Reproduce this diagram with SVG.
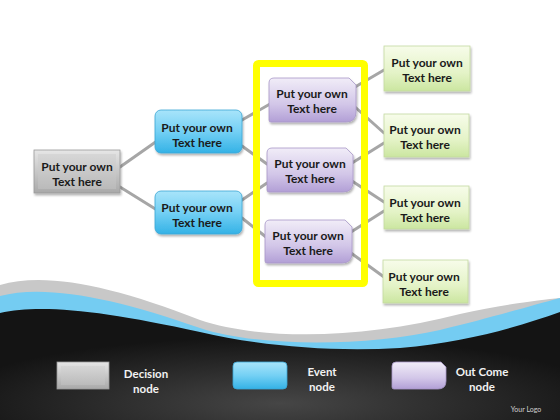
<svg xmlns="http://www.w3.org/2000/svg" width="560" height="420" viewBox="0 0 560 420">
<defs>
<linearGradient id="gGray" x1="0" y1="0" x2="0" y2="1"><stop offset="0" stop-color="#e6e6e6"/><stop offset="1" stop-color="#a9a9a9"/></linearGradient>
<linearGradient id="gGrayIn" x1="0" y1="0" x2="0" y2="1"><stop offset="0" stop-color="#d4d4d4"/><stop offset="1" stop-color="#bdbdbd"/></linearGradient>
<linearGradient id="gBlue" x1="0" y1="0" x2="0" y2="1"><stop offset="0" stop-color="#a8e4fa"/><stop offset="0.5" stop-color="#74d0f4"/><stop offset="1" stop-color="#34b2e6"/></linearGradient>
<linearGradient id="gPurple" x1="0" y1="0" x2="0" y2="1"><stop offset="0" stop-color="#f1edf8"/><stop offset="0.6" stop-color="#d2c6e8"/><stop offset="1" stop-color="#b29fd6"/></linearGradient>
<linearGradient id="gGreen" x1="0" y1="0" x2="0" y2="1"><stop offset="0" stop-color="#f7fcea"/><stop offset="0.6" stop-color="#e4f3c7"/><stop offset="1" stop-color="#cbe6a0"/></linearGradient>
<radialGradient id="gDark" cx="0.5" cy="0.85" r="0.6"><stop offset="0" stop-color="#464646"/><stop offset="1" stop-color="#141414"/></radialGradient>
<filter id="sh" x="-10%" y="-10%" width="130%" height="140%"><feDropShadow dx="1" dy="2" stdDeviation="1.2" flood-color="#000" flood-opacity="0.3"/></filter>
</defs>
<style>
.t{font-family:Lato,"Liberation Sans",sans-serif;font-weight:bold;font-size:12px;fill:#1a1a1a;text-anchor:middle}
.l{font-family:Lato,"Liberation Sans",sans-serif;font-weight:bold;font-size:11.5px;fill:#f2f2f2;text-anchor:middle}
.c{stroke:#a6a6a6;stroke-width:3;fill:none;stroke-linecap:round}
.gr{fill:url(#gGray);stroke:#9a9a9a;stroke-width:0.8}
.bl{fill:url(#gBlue);stroke:#3aa6d6;stroke-width:0.8}
.pu{fill:url(#gPurple);stroke:#a898c8;stroke-width:0.8}
.gn{fill:url(#gGreen);stroke:#c4d9a0;stroke-width:0.8}
</style>
<rect width="560" height="420" fill="#ffffff"/>
<g id="background">
<path d="M0,285 C45,272 110,285 200,320 C260,340 360,340 460,314 C500,305 540,300 560,298 L560,420 L0,420 Z" fill="#c8c8c8"/>
<path d="M0,296 C45,284 115,298 200,328 C260,348 370,346 440,330 C490,318 530,306 560,298 L560,420 L0,420 Z" fill="#74ccf2"/>
<path d="M0,313 C40,304 100,310 200,332 C260,346 330,352 400,348 C470,342 520,326 560,312 L560,420 L0,420 Z" fill="url(#gDark)"/>
</g>
<g id="connectors">
<line class="c" x1="120" y1="167" x2="157" y2="141"/>
<line class="c" x1="120" y1="187" x2="157" y2="210"/>
<line class="c" x1="242" y1="120" x2="270" y2="104"/>
<line class="c" x1="242" y1="146" x2="267" y2="164"/>
<line class="c" x1="242" y1="200" x2="267" y2="183"/>
<line class="c" x1="242" y1="218" x2="266" y2="237"/>
<line class="c" x1="355" y1="87" x2="384" y2="70"/>
<line class="c" x1="355" y1="107" x2="384" y2="133"/>
<line class="c" x1="352" y1="163" x2="384" y2="143"/>
<line class="c" x1="352" y1="181" x2="384" y2="202"/>
<line class="c" x1="351" y1="232" x2="384" y2="211"/>
<line class="c" x1="351" y1="253" x2="384" y2="277"/>
</g>
<g id="highlight">
<rect x="256.5" y="63.5" width="108" height="220" rx="2" fill="none" stroke="#ffff00" stroke-width="7"/>
</g>
<g id="decision">
<rect class="gr" x="34" y="150" width="86" height="43" filter="url(#sh)"/>
<rect x="38" y="154" width="78" height="35" fill="url(#gGrayIn)" opacity="0.8"/>
<text class="t" x="77" y="171">Put your own</text>
<text class="t" x="77" y="186">Text here</text>
</g>
<g id="event1">
<rect class="bl" x="155" y="110" width="87" height="43" rx="6" filter="url(#sh)"/>
<text class="t" x="197" y="132">Put your own</text>
<text class="t" x="197" y="147">Text here</text>
</g>
<g id="event2">
<rect class="bl" x="155" y="191" width="87" height="43" rx="6" filter="url(#sh)"/>
<text class="t" x="197" y="212">Put your own</text>
<text class="t" x="197" y="227">Text here</text>
</g>
<g id="outcome1">
<path class="pu" filter="url(#sh)" d="M274,78 L349,78 L356,85 L356,112 Q356,122 346,122 L271,122 Q269,122 269,120 L269,83 Q269,78 274,78 Z"/>
<text class="t" x="312" y="98">Put your own</text>
<text class="t" x="312" y="113">Text here</text>
</g>
<g id="outcome2">
<path class="pu" filter="url(#sh)" d="M272,148 L346,148 L353,155 L353,182 Q353,192 343,192 L269,192 Q267,192 267,190 L267,153 Q267,148 272,148 Z"/>
<text class="t" x="310" y="168">Put your own</text>
<text class="t" x="310" y="183">Text here</text>
</g>
<g id="outcome3">
<path class="pu" filter="url(#sh)" d="M270,220 L345,220 L352,227 L352,253 Q352,263 342,263 L267,263 Q265,263 265,261 L265,225 Q265,220 270,220 Z"/>
<text class="t" x="308" y="240">Put your own</text>
<text class="t" x="308" y="255">Text here</text>
</g>
<g id="result1">
<rect class="gn" x="384" y="46" width="86" height="45" filter="url(#sh)"/>
<text class="t" x="427" y="67">Put your own</text>
<text class="t" x="427" y="82">Text here</text>
</g>
<g id="result2">
<rect class="gn" x="384" y="114" width="85" height="43" filter="url(#sh)"/>
<text class="t" x="425" y="134">Put your own</text>
<text class="t" x="425" y="149">Text here</text>
</g>
<g id="result3">
<rect class="gn" x="384" y="186" width="85" height="43" filter="url(#sh)"/>
<text class="t" x="425" y="207">Put your own</text>
<text class="t" x="425" y="222">Text here</text>
</g>
<g id="result4">
<rect class="gn" x="383" y="260" width="85" height="43" filter="url(#sh)"/>
<text class="t" x="424" y="281">Put your own</text>
<text class="t" x="424" y="296">Text here</text>
</g>
<g id="legend">
<rect class="gr" x="57" y="362" width="52" height="27"/>
<rect x="61" y="366" width="44" height="19" fill="url(#gGrayIn)" opacity="0.8"/>
<text class="l" x="146" y="378">Decision</text>
<text class="l" x="146" y="393">node</text>
<rect class="bl" x="233" y="362" width="54" height="27" rx="4"/>
<text class="l" x="322" y="376">Event</text>
<text class="l" x="322" y="391">node</text>
<path class="pu" d="M396,362 L441,362 L446,367 L446,381 Q446,389 438,389 L394,389 Q392,389 392,387 L392,366 Q392,362 396,362 Z"/>
<text class="l" x="482" y="376">Out Come</text>
<text class="l" x="482" y="391">node</text>
<text x="526" y="412" font-family="Lato,'Liberation Sans',sans-serif" font-size="7" fill="#d0d0d0" text-anchor="middle">Your Logo</text>
</g>
</svg>
